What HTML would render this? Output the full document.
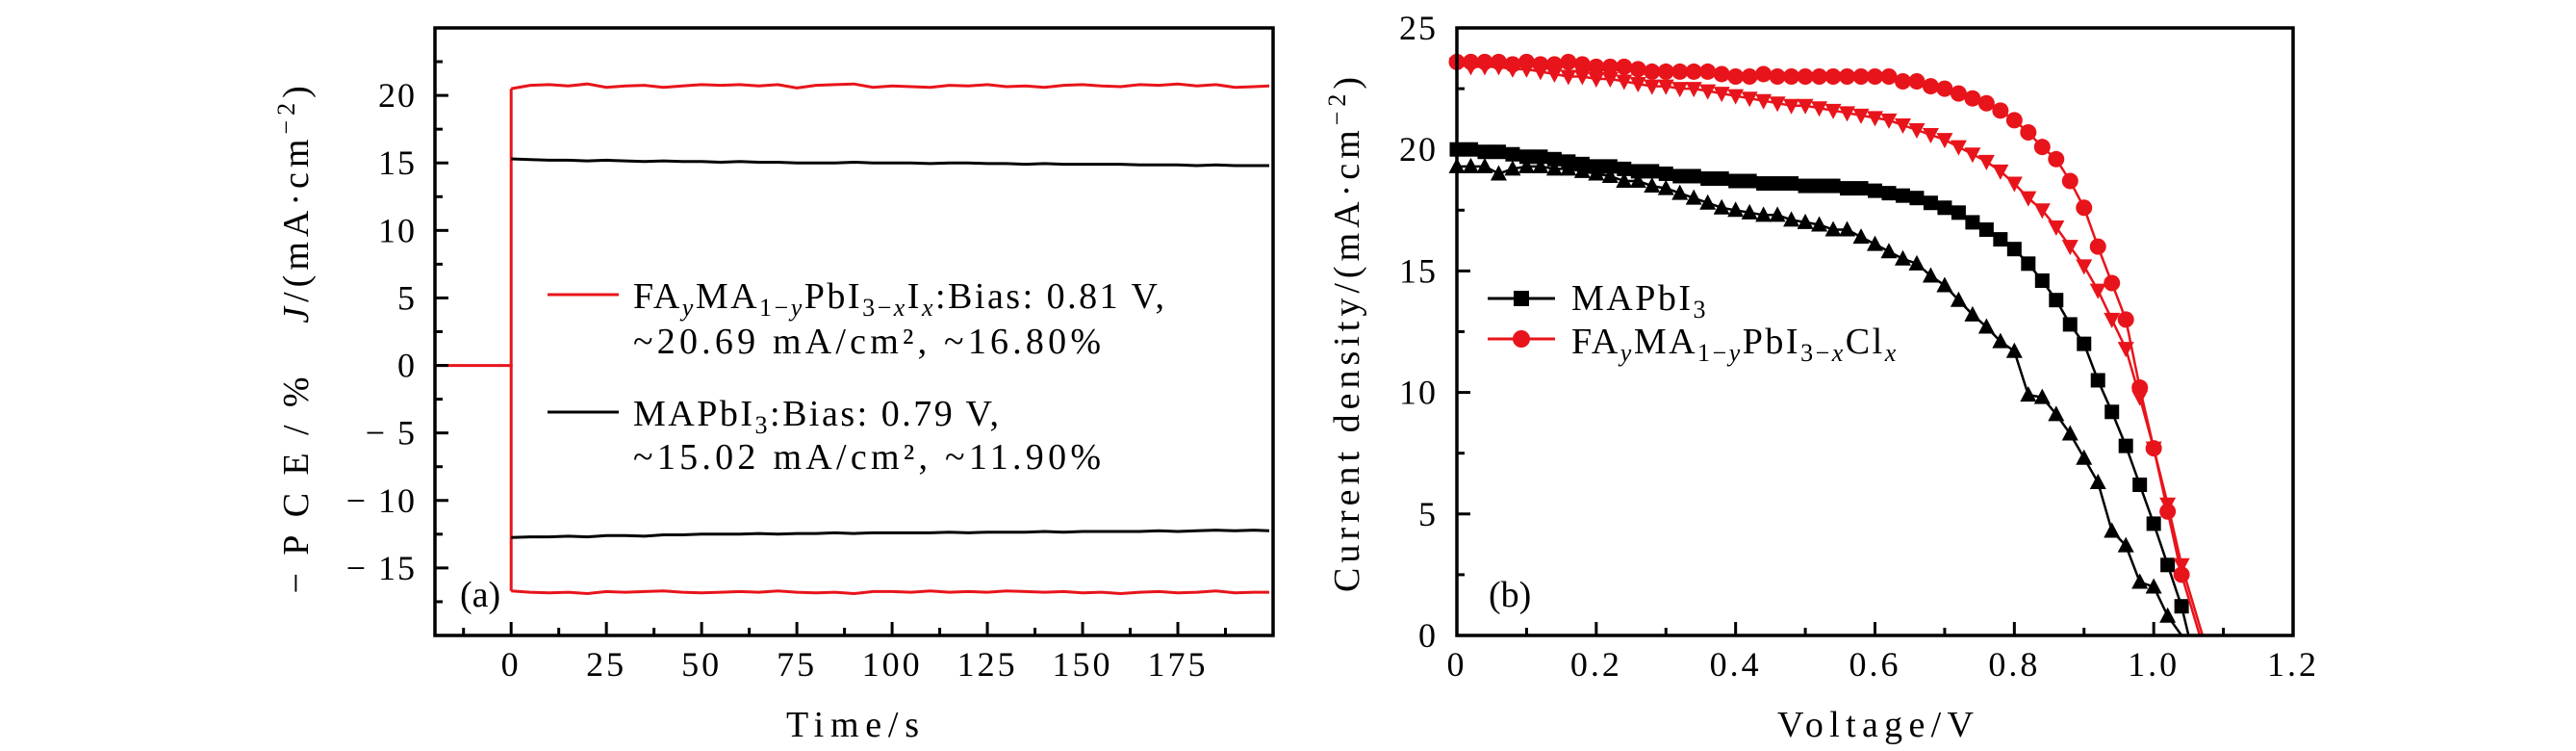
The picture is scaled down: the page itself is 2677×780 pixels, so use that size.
<!DOCTYPE html>
<html><head><meta charset="utf-8">
<style>
html,body{margin:0;padding:0;background:#fff;}
svg{display:block;font-family:"Liberation Serif",serif;}
</style></head>
<body>
<svg id="fig" width="2677" height="780" viewBox="0 0 2677 780" xmlns="http://www.w3.org/2000/svg">
<g id="pa"></g>
<g id="pb"></g>
</svg>
<script>
// ---------- Panel (a) data ----------
const timeA = [0,5,10,15,20,25,30,35,40,45,50,55,60,65,70,75,80,85,90,95,100,105,110,115,120,125,130,135,140,145,150,155,160,165,170,175,180,185,190,195,199];
const redJ = [20.5,20.75,20.8,20.7,20.85,20.6,20.7,20.75,20.6,20.7,20.8,20.75,20.8,20.7,20.8,20.55,20.75,20.8,20.85,20.6,20.7,20.65,20.6,20.75,20.7,20.8,20.65,20.7,20.6,20.75,20.8,20.7,20.65,20.8,20.75,20.85,20.7,20.8,20.6,20.65,20.7];
const blackJ = [15.3,15.25,15.2,15.2,15.15,15.2,15.15,15.1,15.15,15.1,15.1,15.05,15.1,15.05,15.05,15.0,15.0,15.0,15.05,15.0,15.0,15.0,14.95,15.0,15.0,14.95,14.95,14.9,14.95,14.9,14.9,14.9,14.9,14.85,14.85,14.85,14.8,14.85,14.8,14.8,14.8];
const blackPCE = [-12.75,-12.7,-12.7,-12.65,-12.7,-12.6,-12.6,-12.65,-12.55,-12.55,-12.5,-12.5,-12.5,-12.45,-12.5,-12.45,-12.45,-12.4,-12.45,-12.4,-12.4,-12.4,-12.4,-12.35,-12.4,-12.35,-12.35,-12.35,-12.3,-12.35,-12.3,-12.3,-12.3,-12.3,-12.25,-12.3,-12.25,-12.2,-12.25,-12.2,-12.25];
const redPCE = [-16.7,-16.8,-16.85,-16.8,-16.9,-16.75,-16.8,-16.75,-16.7,-16.8,-16.85,-16.8,-16.75,-16.8,-16.7,-16.8,-16.85,-16.8,-16.9,-16.75,-16.75,-16.8,-16.7,-16.8,-16.75,-16.8,-16.7,-16.75,-16.8,-16.75,-16.85,-16.8,-16.9,-16.8,-16.75,-16.85,-16.8,-16.7,-16.85,-16.8,-16.8];
const preTime = [-20,-0.5];
const preValue = [0,0];
const xTicksA = [0,25,50,75,100,125,150,175];
const yTicksA = [20,15,10,5,0,-5,-10,-15];
const yTickLabelsA = ["20","15","10","5","0","\u2212 5","\u2212 10","\u2212 15"];

// ---------- Panel (b) data ----------
const voltage = [0,0.02,0.04,0.06,0.08,0.1,0.12,0.14,0.16,0.18,0.2,0.22,0.24,0.26,0.28,0.3,0.32,0.34,0.36,0.38,0.4,0.42,0.44,0.46,0.48,0.5,0.52,0.54,0.56,0.58,0.6,0.62,0.64,0.66,0.68,0.7,0.72,0.74,0.76,0.78,0.8,0.82,0.84,0.86,0.88,0.9,0.92,0.94,0.96,0.98,1.0,1.02,1.04];
const mapSquares = [20.0,20.0,19.9,19.9,19.8,19.7,19.7,19.6,19.5,19.4,19.3,19.3,19.2,19.1,19.1,19.0,18.9,18.9,18.8,18.8,18.7,18.7,18.6,18.6,18.6,18.5,18.5,18.5,18.4,18.4,18.3,18.2,18.1,18.0,17.8,17.6,17.4,17.0,16.7,16.3,15.9,15.3,14.6,13.8,12.8,12.0,10.5,9.2,7.8,6.2,4.6,2.9,1.2];
const mapTriangles = [19.3,19.3,19.3,19.0,19.2,19.3,19.3,19.2,19.2,19.1,19.0,18.9,18.7,18.7,18.5,18.4,18.2,18.0,17.8,17.6,17.5,17.4,17.3,17.3,17.1,17.0,16.9,16.7,16.7,16.4,16.1,15.8,15.5,15.3,14.8,14.4,13.8,13.2,12.7,12.1,11.7,9.9,9.8,9.1,8.3,7.3,6.3,4.3,3.7,2.2,2.0,0.8];
const faCircles = [23.6,23.6,23.6,23.6,23.5,23.6,23.5,23.5,23.6,23.5,23.4,23.4,23.4,23.3,23.2,23.2,23.2,23.2,23.2,23.1,23.0,23.0,23.1,23.0,23.0,23.0,23.0,23.0,23.0,23.0,23.0,23.0,22.8,22.8,22.6,22.5,22.3,22.1,21.9,21.6,21.2,20.7,20.1,19.6,18.7,17.6,16.0,14.5,13.0,10.2,7.7,5.1,2.5];
const faDownTriangles = [23.5,23.4,23.4,23.4,23.3,23.3,23.2,23.1,23.0,23.0,22.9,22.9,22.8,22.7,22.6,22.6,22.5,22.5,22.4,22.3,22.2,22.1,22.0,21.9,21.8,21.8,21.7,21.6,21.5,21.4,21.3,21.2,21.0,20.8,20.6,20.4,20.1,19.8,19.5,19.1,18.6,18.0,17.5,16.8,16.0,15.2,14.2,13.0,11.8,9.8,7.7,5.4,2.9];
const vocSquares = [1.05,0];
const vocTriangles = [1.04,0];
const vocCircles = [1.066,0];
const vocDown = [1.07,0];
const xTicksB = [0,0.2,0.4,0.6,0.8,1.0,1.2];
const xTickLabelsB = ["0","0.2","0.4","0.6","0.8","1.0","1.2"];
const yTicksB = [0,5,10,15,20,25];

const NS = "http://www.w3.org/2000/svg";
function mk(tag, attrs, parent){
  const e = document.createElementNS(NS, tag);
  for (const k in attrs) e.setAttribute(k, attrs[k]);
  parent.appendChild(e);
  return e;
}
const RED = "#e8141b";

// ---------- Panel (a) ----------
const A = {l:452, r:1323, t:29, b:660, x0:-20, x1:200, y0:-20, y1:25};
const ax = v => A.l + (v - A.x0) / (A.x1 - A.x0) * (A.r - A.l);
const ay = v => A.b - (v - A.y0) / (A.y1 - A.y0) * (A.b - A.t);
const pa = document.getElementById('pa');

function polyA(xs, ys, color, name){
  let d = "";
  xs.forEach((x,i)=>{ d += (i?"L":"M") + ax(x).toFixed(1) + "," + ay(ys[i]).toFixed(1); });
  const p = mk('path', {d:d, fill:'none', stroke:color, 'stroke-width':3}, pa);
  
  
  return p;
}
polyA(preTime, preValue, RED, 'baseline-zero-line');
polyA([preTime[1], 0, timeA[0]], [preValue[1], preValue[1], redJ[0]], RED, 'red-jump-up');
polyA([preTime[1], 0, timeA[0]], [preValue[1], preValue[1], redPCE[0]], RED, 'red-jump-down');
polyA(timeA, redJ, RED, 'red-current-line');
polyA(timeA, redPCE, RED, 'red-pce-line');
polyA(timeA, blackJ, '#000', 'black-current-line');
polyA(timeA, blackPCE, '#000', 'black-pce-line');

for (let v=-12.5; v<=200; v+=12.5){
  const major = Math.abs(v % 25) < 1e-6;
  const t = mk('line', {x1:ax(v), x2:ax(v), y1:A.b, y2:A.b-(major?14:8), stroke:'#000', 'stroke-width':3}, pa);
  
  
}
for (let v=-17.5; v<=25; v+=2.5){
  const major = Math.abs(v % 5) < 1e-6;
  const t = mk('line', {x1:A.l, x2:A.l+(major?14:8), y1:ay(v), y2:ay(v), stroke:'#000', 'stroke-width':3}, pa);
  
  
}
xTicksA.forEach(v=>{
  const t = mk('text', {x:ax(v), y:702, 'text-anchor':'middle', 'font-size':36, 'letter-spacing':3}, pa);
  t.textContent = String(v);
  
  
});
yTicksA.forEach((v,i)=>{
  const t = mk('text', {x:433, y:ay(v)+12, 'text-anchor':'end', 'font-size':36, 'letter-spacing':2}, pa);
  t.textContent = yTickLabelsA[i];
  
  
});
const fa = mk('rect', {x:A.l, y:A.t, width:A.r-A.l, height:A.b-A.t, fill:'none', stroke:'#000', 'stroke-width':3.5}, pa);



// ---------- Panel (b) ----------
const B = {l:1514, r:2383, t:29, b:660, x0:0, x1:1.2, y0:0, y1:25};
const bx = v => B.l + (v - B.x0) / (B.x1 - B.x0) * (B.r - B.l);
const by = v => B.b - (v - B.y0) / (B.y1 - B.y0) * (B.b - B.t);
const pb = document.getElementById('pb');

function seriesB(ys, voc, color, marker, name){
  let d = "";
  ys.forEach((y,i)=>{ d += (i?"L":"M") + bx(voltage[i]).toFixed(1) + "," + by(y).toFixed(1); });
  d += "L" + bx(voc[0]).toFixed(1) + "," + by(voc[1]).toFixed(1);
  const p = mk('path', {d:d, fill:'none', stroke:color, 'stroke-width':2.5}, pb);
  
  
  ys.forEach((y,i)=>{
    const m = drawMarker(bx(voltage[i]), by(y), marker, color);
    
    
  });
}
function drawMarker(x, y, type, color){
  if (type === 'square') return mk('rect', {x:x-7.5, y:y-7.5, width:15, height:15, fill:color}, pb);
  if (type === 'circle') return mk('circle', {cx:x, cy:y, r:8.5, fill:color}, pb);
  if (type === 'up') return mk('polygon', {points:`${x},${y-9} ${x-8.5},${y+7} ${x+8.5},${y+7}`, fill:color}, pb);
  return mk('polygon', {points:`${x},${y+9} ${x-8.5},${y-7} ${x+8.5},${y-7}`, fill:color}, pb);
}
seriesB(mapTriangles, vocTriangles, '#000', 'up', 'mapbi3-triangle');
seriesB(mapSquares, vocSquares, '#000', 'square', 'mapbi3-square');
seriesB(faDownTriangles, vocDown, RED, 'down', 'fama-down-triangle');
seriesB(faCircles, vocCircles, RED, 'circle', 'fama-circle');

for (let v=0.1; v<1.2; v+=0.1){
  const major = Math.abs(Math.round(v*10) % 2) === 0;
  const t = mk('line', {x1:bx(v), x2:bx(v), y1:B.b, y2:B.b-(major?14:8), stroke:'#000', 'stroke-width':3}, pb);
  
  
}
for (let v=2.5; v<25; v+=2.5){
  const major = Math.abs(v % 5) < 1e-6;
  const t = mk('line', {x1:B.l, x2:B.l+(major?14:8), y1:by(v), y2:by(v), stroke:'#000', 'stroke-width':3}, pb);
  
  
}
xTicksB.forEach((v,i)=>{
  const t = mk('text', {x:bx(v), y:702, 'text-anchor':'middle', 'font-size':36, 'letter-spacing':3}, pb);
  t.textContent = xTickLabelsB[i];
  
  
});
yTicksB.forEach(v=>{
  const t = mk('text', {x:1494, y:by(v)+12, 'text-anchor':'end', 'font-size':36, 'letter-spacing':2}, pb);
  t.textContent = String(v);
  
  
});
const fb = mk('rect', {x:B.l, y:B.t, width:B.r-B.l, height:B.b-B.t, fill:'none', stroke:'#000', 'stroke-width':3.5}, pb);


</script>

<svg width="2677" height="780" style="position:absolute;left:0;top:0" xmlns="http://www.w3.org/2000/svg" font-family="Liberation Serif, serif">
  <text x="886" y="765" text-anchor="middle" font-size="38" textLength="138" lengthAdjust="spacing">Time/s</text>
  <text transform="translate(320,210) rotate(-90)" text-anchor="middle" font-size="38" letter-spacing="5"><tspan font-style="italic">J</tspan>/(mA·cm<tspan font-size="26" dy="-14">−2</tspan><tspan dy="14">)</tspan></text>
  <text transform="translate(320,504) rotate(-90)" text-anchor="middle" font-size="38" textLength="225" lengthAdjust="spacing">−PCE/%</text>
  <text x="478" y="630" font-size="38">(a)</text>
  <line x1="569" y1="306" x2="643" y2="306" stroke="#e8141b" stroke-width="3"/>
  <text x="658" y="320" font-size="38" letter-spacing="2.5">FA<tspan font-size="26" font-style="italic" dy="8">y</tspan><tspan dy="-8">MA</tspan><tspan font-size="26" dy="8">1−<tspan font-style="italic">y</tspan></tspan><tspan dy="-8">PbI</tspan><tspan font-size="26" dy="8">3−<tspan font-style="italic">x</tspan></tspan><tspan dy="-8">I</tspan><tspan font-size="26" font-style="italic" dy="8">x</tspan><tspan dy="-8">:Bias: 0.81 V,</tspan></text>
  <text x="658" y="367" font-size="38" textLength="486" lengthAdjust="spacing">~20.69 mA/cm², ~16.80%</text>
  <line x1="569" y1="428" x2="643" y2="428" stroke="#000" stroke-width="3"/>
  <text x="658" y="442" font-size="38" letter-spacing="2.5">MAPbI<tspan font-size="26" dy="8">3</tspan><tspan dy="-8">:Bias: 0.79 V,</tspan></text>
  <text x="658" y="487" font-size="38" textLength="486" lengthAdjust="spacing">~15.02 mA/cm², ~11.90%</text>
  <text x="1949" y="765" text-anchor="middle" font-size="38" textLength="204" lengthAdjust="spacing">Voltage/V</text>
  <text transform="translate(1412,345) rotate(-90)" text-anchor="middle" font-size="38" letter-spacing="5">Current density/(mA·cm<tspan font-size="26" dy="-14">−2</tspan><tspan dy="14">)</tspan></text>
  <text x="1547" y="630" font-size="38">(b)</text>
  <line x1="1546" y1="310" x2="1616" y2="310" stroke="#000" stroke-width="3"/>
  <rect x="1573" y="302" width="16" height="16" fill="#000"/>
  <text x="1633" y="322" font-size="38" letter-spacing="2.5">MAPbI<tspan font-size="26" dy="8">3</tspan></text>
  <line x1="1546" y1="352" x2="1616" y2="352" stroke="#e8141b" stroke-width="3"/>
  <circle cx="1581" cy="352" r="9" fill="#e8141b"/>
  <text x="1633" y="367" font-size="38" letter-spacing="2.5">FA<tspan font-size="26" font-style="italic" dy="8">y</tspan><tspan dy="-8">MA</tspan><tspan font-size="26" dy="8">1−<tspan font-style="italic">y</tspan></tspan><tspan dy="-8">PbI</tspan><tspan font-size="26" dy="8">3−<tspan font-style="italic">x</tspan></tspan><tspan dy="-8">Cl</tspan><tspan font-size="26" font-style="italic" dy="8">x</tspan></text>
</svg>
</body></html>
